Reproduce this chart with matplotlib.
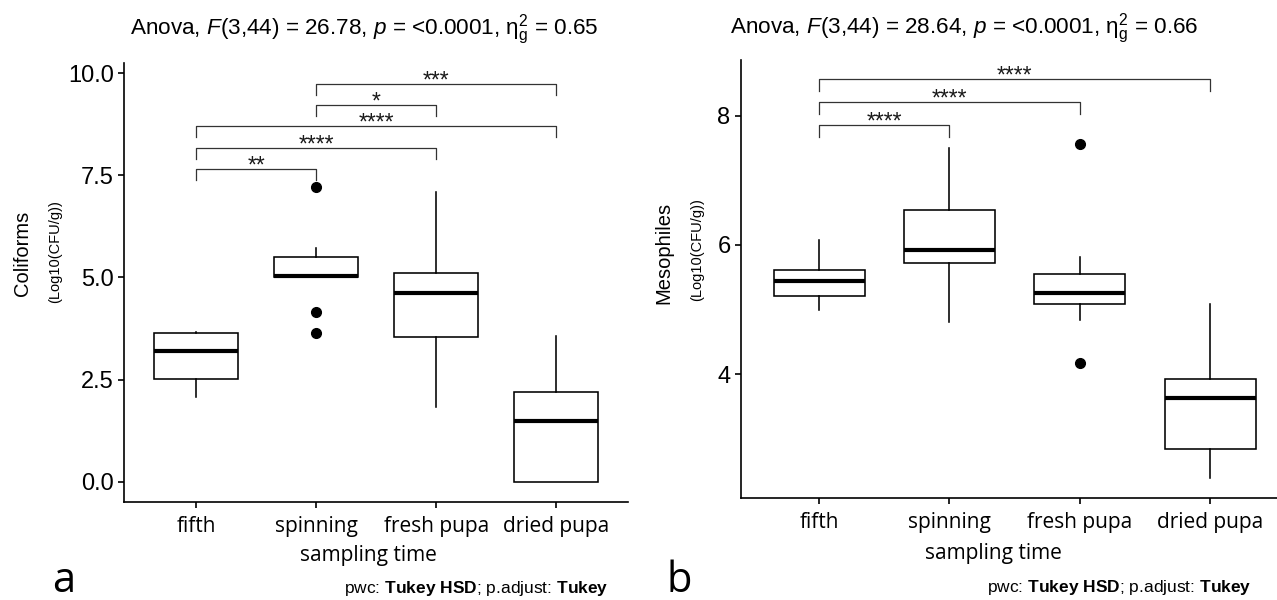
import matplotlib
matplotlib.use("Agg")
import matplotlib.pyplot as plt

plt.rcParams['font.family'] = ['Liberation Sans', 'DejaVu Sans']
plt.rcParams['mathtext.fontset'] = 'custom'
plt.rcParams['mathtext.rm'] = 'Liberation Sans'
plt.rcParams['mathtext.it'] = 'Liberation Sans:italic'
plt.rcParams['mathtext.bf'] = 'Liberation Sans:bold'

W, H = 1277, 600

CATEGORIES = ["fifth", "spinning", "fresh pupa", "dried pupa"]

# panel a - Coliforms
COLI_Q1 = [2.51, 5.02, 3.54, 0.00]
COLI_MED = [3.20, 5.04, 4.61, 1.49]
COLI_Q3 = [3.63, 5.51, 5.12, 2.19]
COLI_LO = [2.08, 5.02, 1.84, 0.00]
COLI_HI = [3.67, 5.72, 7.10, 3.57]
COLI_OUT = [[], [7.21, 4.16, 3.63], [], []]
COLI_PAIRS = [(0, 1), (0, 2), (0, 3), (1, 2), (1, 3)]
COLI_BRACKET_Y = [7.65, 8.18, 8.71, 9.22, 9.73]
COLI_STARS = ["**", "****", "****", "*", "***"]
COLI_TICKS = [0.0, 2.5, 5.0, 7.5, 10.0]
COLI_TICKLABELS = ["0.0", "2.5", "5.0", "7.5", "10.0"]
COLI_TITLE = r"Anova, $\it{F}$(3,44) = 26.78, $\it{p}$ = <0.0001, η$^2_{\rm g}$ = 0.65"

# panel b - Mesophiles
MESO_Q1 = [5.21, 5.72, 5.09, 2.83]
MESO_MED = [5.44, 5.93, 5.25, 3.63]
MESO_Q3 = [5.61, 6.54, 5.55, 3.92]
MESO_LO = [4.99, 4.80, 4.84, 2.39]
MESO_HI = [6.08, 7.50, 5.81, 5.09]
MESO_OUT = [[], [], [7.57, 4.17], []]
MESO_PAIRS = [(0, 1), (0, 2), (0, 3)]
MESO_BRACKET_Y = [7.86, 8.21, 8.57]
MESO_STARS = ["****", "****", "****"]
MESO_TICKS = [4, 6, 8]
MESO_TICKLABELS = ["4", "6", "8"]
MESO_TITLE = r"Anova, $\it{F}$(3,44) = 28.64, $\it{p}$ = <0.0001, η$^2_{\rm g}$ = 0.66"

PWC = r"pwc: $\bf{Tukey\ HSD}$; p.adjust: $\bf{Tukey}$"


def px(x, y):
    return x / W, 1 - y / H


def draw_panel(ax, q1, med, q3, lo, hi, out, pairs, by, stars, tip,
               ticks, ticklabels, ylim):
    stats = []
    for i in range(len(CATEGORIES)):
        stats.append(dict(q1=q1[i], med=med[i], q3=q3[i],
                          whislo=lo[i], whishi=hi[i], fliers=out[i]))
    pos = list(range(1, len(CATEGORIES) + 1))
    ax.bxp(stats, positions=pos, widths=0.7, showcaps=False, patch_artist=True,
           boxprops=dict(facecolor='white', edgecolor='black', linewidth=1.15),
           medianprops=dict(color='black', linewidth=3.0, solid_capstyle='butt'),
           whiskerprops=dict(color='black', linewidth=1.15),
           flierprops=dict(marker='o', markerfacecolor='black',
                           markeredgecolor='black', markersize=7))

    # significance brackets
    for (a, b), y, s in zip(pairs, by, stars):
        x1, x2 = pos[a], pos[b]
        ax.plot([x1, x1, x2, x2], [y - tip, y, y, y - tip],
                color='#333333', lw=0.9, clip_on=False)
        ax.annotate(s, xy=((x1 + x2) / 2, y), xytext=(0, -2.5),
                    textcoords='offset points', ha='center', va='baseline',
                    fontsize=16.5, color='#1a1a1a')

    ax.set_xlim(0.4, 4.6)
    ax.set_ylim(*ylim)
    ax.set_xticks(pos, CATEGORIES)
    ax.set_yticks(ticks, ticklabels)
    for lbl in ax.get_xticklabels():
        lbl.set_fontfamily('Open Sans')
        lbl.set_fontsize(15)
    for lbl in ax.get_yticklabels():
        lbl.set_fontsize(17)
    ax.tick_params(axis='both', length=4.5, width=1.2, color='black', pad=3)
    ax.tick_params(axis='x', pad=5.5)
    for side in ['top', 'right']:
        ax.spines[side].set_visible(False)
    for side in ['left', 'bottom']:
        ax.spines[side].set_linewidth(1.2)


fig = plt.figure(figsize=(W / 100, H / 100), dpi=100)

# panel a
ax_a = fig.add_axes([124.3 / W, (H - 501.7) / H, (628.4 - 124.3) / W, (501.7 - 63.3) / H])
draw_panel(ax_a, COLI_Q1, COLI_MED, COLI_Q3, COLI_LO, COLI_HI, COLI_OUT,
           COLI_PAIRS, COLI_BRACKET_Y, COLI_STARS, 0.27,
           COLI_TICKS, COLI_TICKLABELS, (-0.49, 10.245))

# panel b (right side runs past the figure edge, as in the source)
ax_b = fig.add_axes([741 / W, (H - 498.3) / H, 547.3 / W, (498.3 - 60) / H])
draw_panel(ax_b, MESO_Q1, MESO_MED, MESO_Q3, MESO_LO, MESO_HI, MESO_OUT,
           MESO_PAIRS, MESO_BRACKET_Y, MESO_STARS, 0.18,
           MESO_TICKS, MESO_TICKLABELS, (2.073, 8.868))

# titles
fig.text(*px(364, 34.3), COLI_TITLE, ha='center', va='baseline', fontsize=16.2)
fig.text(*px(964.7, 33.3), MESO_TITLE, ha='center', va='baseline', fontsize=16.2)

# y labels
fig.text(*px(22.5, 253), "Coliforms", rotation=90, ha='center', va='center', fontsize=14.5)
fig.text(*px(55, 252), "(Log10(CFU/g))", rotation=90, ha='center', va='center', fontsize=10.5)
fig.text(*px(664, 253), "Mesophiles", rotation=90, ha='center', va='center', fontsize=14.5)
fig.text(*px(697, 250), "(Log10(CFU/g))", rotation=90, ha='center', va='center', fontsize=10.5)

# x labels
fig.text(*px(368, 560.5), "sampling time", ha='center', va='baseline',
         fontsize=15, fontfamily='Open Sans')
fig.text(*px(993.5, 559.3), "sampling time", ha='center', va='baseline',
         fontsize=15, fontfamily='Open Sans')

# panel letters
fig.text(*px(52, 592), "a", ha='left', va='baseline', fontsize=30, fontfamily='Open Sans')
fig.text(*px(667, 592), "b", ha='left', va='baseline', fontsize=30, fontfamily='Open Sans')

# captions
fig.text(*px(608.9, 593), PWC, ha='right', va='baseline', fontsize=12.5)
fig.text(*px(1251.3, 591.7), PWC, ha='right', va='baseline', fontsize=12.5)

fig.savefig('out.png', dpi=100)
